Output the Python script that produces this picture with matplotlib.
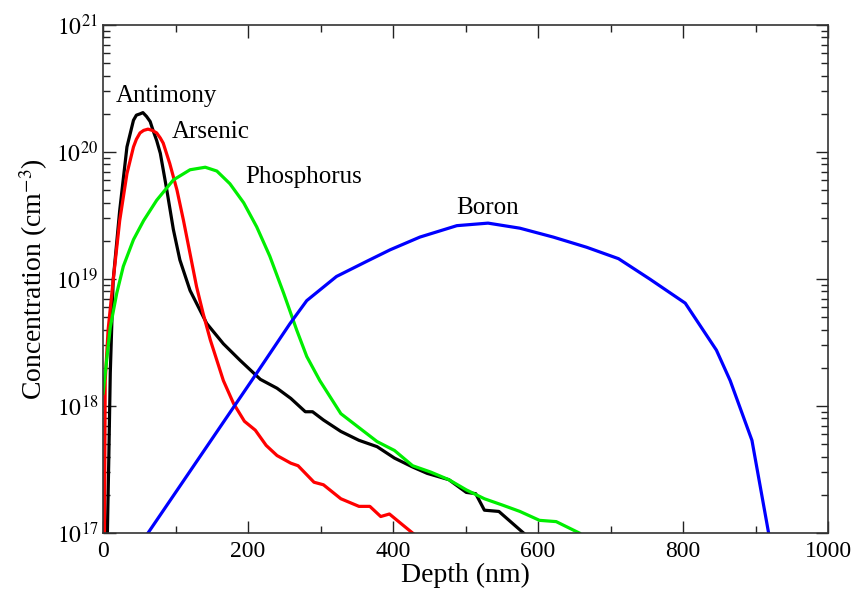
"""Dopant implant depth profiles (concentration vs depth)."""

import matplotlib

matplotlib.use("Agg")

import matplotlib.pyplot as plt
import numpy as np
from matplotlib.ticker import LogLocator, MultipleLocator, FuncFormatter

plt.rcParams["font.family"] = ["Liberation Serif", "DejaVu Serif"]
plt.rcParams["mathtext.fontset"] = "stix"

# Depth (nm) and log10 concentration (cm^-3).
antimony_x = [6, 8, 10, 14, 23, 33, 42, 46, 51, 55, 60, 65, 69, 74, 79, 88, 97, 106,
              120, 143, 166, 189, 217, 240, 259, 279, 289, 304, 328, 353, 378, 402,
              427, 447, 477, 501, 514, 526, 546, 566, 580]
antimony_log = [17.0, 17.6, 18.26, 18.99, 19.54, 20.04, 20.25, 20.29, 20.30, 20.31,
                20.28, 20.24, 20.17, 20.09, 19.99, 19.70, 19.39, 19.15, 18.91, 18.65,
                18.49, 18.36, 18.21, 18.14, 18.06, 17.955, 17.955, 17.89, 17.80,
                17.73, 17.68, 17.59, 17.52, 17.47, 17.42, 17.32, 17.31, 17.18, 17.17,
                17.07, 17.0]

arsenic_x = [2, 3, 7, 14, 23, 33, 42, 46, 51, 56, 62, 68, 74, 79, 83, 92, 102, 111,
             120, 129, 138, 148, 157, 166, 180, 195, 210, 225, 240, 259, 269, 291,
             304, 328, 353, 368, 383, 395, 412, 427]
arsenic_log = [17.0, 18.2, 18.6, 18.99, 19.46, 19.83, 20.04, 20.10, 20.15, 20.17,
               20.18, 20.17, 20.15, 20.11, 20.07, 19.91, 19.70, 19.46, 19.20, 18.94,
               18.73, 18.52, 18.36, 18.20, 18.02, 17.88, 17.81, 17.69, 17.61, 17.55,
               17.53, 17.40, 17.38, 17.27, 17.21, 17.21, 17.13, 17.15, 17.07, 17.0]

phosphorus_x = [0, 10, 19, 28, 42, 56, 74, 97, 120, 141, 157, 175, 194, 212, 230,
                249, 267, 281, 299, 328, 378, 402, 427, 452, 477, 501, 526, 551, 575,
                602, 625, 657]
phosphorus_log = [18.1, 18.62, 18.89, 19.10, 19.31, 19.46, 19.62, 19.78, 19.86,
                  19.88, 19.85, 19.75, 19.60, 19.41, 19.18, 18.89, 18.60, 18.39,
                  18.20, 17.94, 17.72, 17.65, 17.53, 17.48, 17.42, 17.34, 17.27,
                  17.22, 17.17, 17.10, 17.09, 17.0]

boron_x = [62, 205, 258, 281, 322, 364, 396, 437, 488, 531, 575, 621, 667, 711, 754,
           803, 846, 865, 895, 918]
boron_log = [17.0, 18.2, 18.65, 18.83, 19.02, 19.14, 19.23, 19.33, 19.42, 19.44,
             19.40, 19.33, 19.25, 19.16, 19.0, 18.81, 18.44, 18.20, 17.73, 17.0]

series = [
    ("Antimony", antimony_x, antimony_log, "#000000"),
    ("Arsenic", arsenic_x, arsenic_log, "#ff0000"),
    ("Phosphorus", phosphorus_x, phosphorus_log, "#00ee00"),
    ("Boron", boron_x, boron_log, "#0000ff"),
]

# Label anchors (depth, log10 concentration).
label_pos = {
    "Antimony": (87, 20.44),
    "Arsenic": (148, 20.16),
    "Phosphorus": (276, 19.80),
    "Boron": (531, 19.56),
}

fig = plt.figure(figsize=(8.55, 5.89), dpi=100)
ax = fig.add_axes([0.1205, 0.095, 0.848, 0.8626])

for name, xs, logs, color in series:
    ax.plot(xs, 10.0 ** np.asarray(logs), color=color, lw=2.3, solid_joinstyle="round")
    lx, ly = label_pos[name]
    ax.text(lx, 10.0 ** ly, name, fontsize=18, ha="center", va="center")

ax.set_yscale("log")
ax.set_xlim(0, 1000)
ax.set_ylim(1e17, 1e21)

ax.xaxis.set_major_locator(MultipleLocator(200))
ax.xaxis.set_minor_locator(MultipleLocator(100))
ax.yaxis.set_major_locator(LogLocator(base=10, numticks=10))
ax.yaxis.set_minor_locator(LogLocator(base=10, subs=np.arange(2, 10), numticks=20))
ax.yaxis.set_major_formatter(FuncFormatter(lambda v, _: rf"$10^{{{int(round(np.log10(v)))}}}$"))

ax.tick_params(which="both", direction="in", top=True, right=True, labelsize=17,
               colors="#222222", labelcolor="black")
ax.tick_params(which="major", length=9, width=1)
ax.tick_params(which="minor", length=5, width=1)
ax.tick_params(axis="x", pad=6)
for spine in ax.spines.values():
    spine.set_color("#333333")
    spine.set_linewidth(1.2)

ax.set_xlabel("Depth (nm)", fontsize=20, labelpad=0)
ax.set_ylabel(r"Concentration (cm$^{-3}$)", fontsize=20, labelpad=4)

fig.savefig("out.png", dpi=100)
